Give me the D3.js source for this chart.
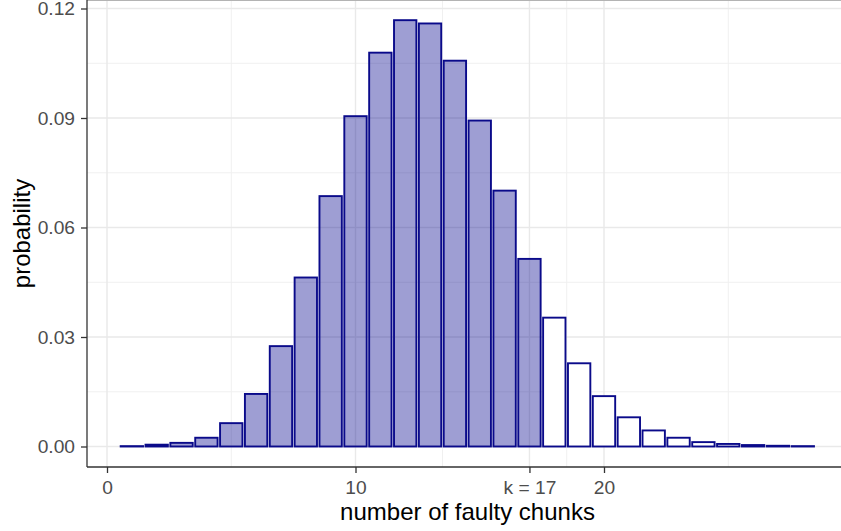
<!DOCTYPE html>
<html>
<head>
<meta charset="utf-8">
<script src="https://cdn.jsdelivr.net/npm/d3@7"></script>
<style>
  html, body { margin: 0; padding: 0; background: #ffffff; }
  svg { display: block; font-family: "Liberation Sans", Arial, Helvetica, sans-serif; }
</style>
</head>
<body>
<svg id="chart" width="841" height="531"></svg>
<script>
// ---- data ----
const chunks = [1,2,3,4,5,6,7,8,9,10,11,12,13,14,15,16,17,18,19,20,21,22,23,24,25,26,27,28];
const probability = [0.0001, 0.0005, 0.0010, 0.0024, 0.0064, 0.0144, 0.0275, 0.0463, 0.0686, 0.0905,
                     0.1079, 0.1168, 0.1159, 0.1057, 0.0893, 0.0701, 0.0514, 0.0353, 0.0228, 0.0138,
                     0.0080, 0.0044, 0.0024, 0.0012, 0.0007, 0.0004, 0.0002, 0.0001];
const kThreshold = 17;
const xTickValues = [0, 10, 17, 20];
const xTickLabels = ["0", "10", "k = 17", "20"];
const xMinorValues = [5, 13.5, 18.5, 25];
const yTickValues = [0, 0.03, 0.06, 0.09, 0.12];
const yTickLabels = ["0.00", "0.03", "0.06", "0.09", "0.12"];
const yMinorValues = [0.015, 0.045, 0.075, 0.105];

// ---- layout ----
const svg = d3.select("#chart");
const W = 841, H = 531;
const panel = { left: 87, top: 0, right: 848, bottom: 467 };

const x = d3.scaleLinear().domain([0, 20]).range([107, 604]);
const y = d3.scaleLinear().domain([0, 0.12]).range([446.5, 8.5]);
const barW = 0.9 * (x(1) - x(0));

svg.append("defs").append("clipPath").attr("id", "pclip")
  .append("rect").attr("x", panel.left).attr("y", panel.top)
  .attr("width", panel.right - panel.left).attr("height", panel.bottom - panel.top);

const g = svg.append("g").attr("clip-path", "url(#pclip)");

g.append("rect").attr("x", panel.left).attr("y", panel.top)
  .attr("width", panel.right - panel.left).attr("height", panel.bottom - panel.top)
  .attr("fill", "#ffffff");

// minor grid
g.selectAll("line.xminor").data(xMinorValues).enter().append("line")
  .attr("x1", d => x(d)).attr("x2", d => x(d))
  .attr("y1", panel.top).attr("y2", panel.bottom)
  .attr("stroke", "#f0f0f0").attr("stroke-width", 1);
g.selectAll("line.yminor").data(yMinorValues).enter().append("line")
  .attr("x1", panel.left).attr("x2", panel.right)
  .attr("y1", d => y(d)).attr("y2", d => y(d))
  .attr("stroke", "#f0f0f0").attr("stroke-width", 1);

// major grid
g.selectAll("line.xmajor").data(xTickValues).enter().append("line")
  .attr("x1", d => x(d)).attr("x2", d => x(d))
  .attr("y1", panel.top).attr("y2", panel.bottom)
  .attr("stroke", "#e9e9e9").attr("stroke-width", 1.4);
g.selectAll("line.ymajor").data(yTickValues).enter().append("line")
  .attr("x1", panel.left).attr("x2", panel.right)
  .attr("y1", d => y(d)).attr("y2", d => y(d))
  .attr("stroke", "#e9e9e9").attr("stroke-width", 1.4);

// bars
const data = chunks.map((c, i) => ({ c, p: probability[i] }));
g.selectAll("rect.bar").data(data).enter().append("rect")
  .attr("class", "bar")
  .attr("x", d => x(d.c) - barW / 2)
  .attr("width", barW)
  .attr("y", d => y(d.p))
  .attr("height", d => y(0) - y(d.p))
  .attr("fill", d => d.c <= kThreshold ? "rgba(0,0,139,0.38)" : "#ffffff")
  .attr("stroke", "#0a0a8a")
  .attr("stroke-width", 1.9);

// top border remnant
svg.append("line").attr("x1", panel.left).attr("x2", W)
  .attr("y1", 0.5).attr("y2", 0.5).attr("stroke", "#b3b3b3").attr("stroke-width", 1);

// axes
const xAxis = d3.axisBottom(x).tickValues(xTickValues)
  .tickFormat((d, i) => xTickLabels[i]).tickSize(6).tickSizeOuter(0).tickPadding(7);
const yAxis = d3.axisLeft(y).tickValues(yTickValues)
  .tickFormat((d, i) => yTickLabels[i]).tickSize(6).tickSizeOuter(0).tickPadding(6);

const gx = svg.append("g").attr("transform", `translate(0,${panel.bottom})`).call(xAxis);
gx.select(".domain").attr("d", `M${panel.left},0H${W}`).attr("stroke", "#333333").attr("stroke-width", 1.3);
gx.selectAll(".tick line").attr("stroke", "#333333").attr("stroke-width", 1.3);
gx.selectAll(".tick text").attr("fill", "#4d4d4d").style("font-size", "19.2px")
  .style("font-family", "'Liberation Sans', Arial, sans-serif");

const gy = svg.append("g").attr("transform", `translate(${panel.left},0)`).call(yAxis);
gy.select(".domain").attr("d", `M0,${panel.top}V${panel.bottom}`).attr("stroke", "#333333").attr("stroke-width", 1.3);
gy.selectAll(".tick line").attr("stroke", "#333333").attr("stroke-width", 1.3);
gy.selectAll(".tick text").attr("fill", "#4d4d4d").style("font-size", "19.2px")
  .style("font-family", "'Liberation Sans', Arial, sans-serif");

// axis titles
svg.append("text").attr("x", (panel.left + panel.right) / 2).attr("y", 520)
  .attr("text-anchor", "middle").attr("fill", "#000")
  .style("font-size", "24px").text("number of faulty chunks");
svg.append("text")
  .attr("transform", `translate(30,${(panel.top + panel.bottom) / 2}) rotate(-90)`)
  .attr("text-anchor", "middle").attr("fill", "#000")
  .style("font-size", "24px").text("probability");
</script>
</body>
</html>
